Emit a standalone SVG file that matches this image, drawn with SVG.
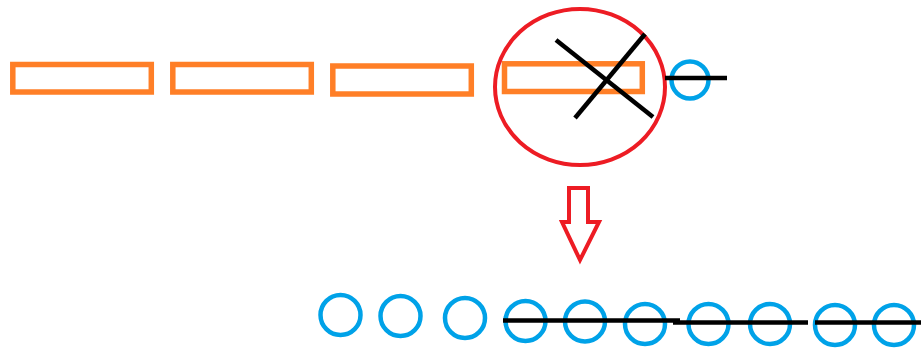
<svg xmlns="http://www.w3.org/2000/svg" width="921" height="349" viewBox="0 0 921 349">
<style>
.bar{fill:none;stroke:#ff7f27;stroke-width:5.5}
.dot{fill:none;stroke:#00a2e8;stroke-width:4.5}
.ink{stroke:#000;stroke-width:4.5;stroke-linecap:butt;fill:none}
.red{fill:none;stroke:#ed1c24;stroke-width:4}
</style>
<rect width="921" height="349" fill="#fff"/>
<g id="bar1"><rect class="bar" x="12.8" y="64.5" width="138.5" height="27.5"/></g>
<g id="bar2"><rect class="bar" x="172.8" y="64.5" width="138.5" height="27.5"/></g>
<g id="bar3"><rect class="bar" x="332.8" y="66" width="138.5" height="28"/></g>
<g id="bar4"><rect class="bar" x="504.5" y="63.8" width="137.8" height="27.7"/></g>
<g id="highlight"><ellipse class="red" cx="580" cy="87" rx="85" ry="78"/></g>
<g id="cross">
<line class="ink" x1="556" y1="40" x2="653" y2="117"/>
<line class="ink" x1="645" y1="34" x2="575" y2="118"/>
</g>
<g id="top-dot"><circle class="dot" cx="690" cy="80" r="18.5"/></g>
<g id="arrow"><path class="red" d="M569,188 H588 V222 H599 L580,260 L562,222 H569 Z" stroke-linejoin="miter"/></g>
<g id="dots">
<circle class="dot" cx="340.5" cy="315" r="20"/>
<circle class="dot" cx="400.5" cy="316" r="20"/>
<circle class="dot" cx="465" cy="318" r="20"/>
<circle class="dot" cx="525.5" cy="321" r="20"/>
<circle class="dot" cx="585" cy="321.5" r="20"/>
<circle class="dot" cx="645" cy="324" r="20"/>
<circle class="dot" cx="708.5" cy="324" r="20"/>
<circle class="dot" cx="770" cy="324" r="20"/>
<circle class="dot" cx="835" cy="325" r="20"/>
<circle class="dot" cx="894" cy="325" r="20"/>
</g>
<g id="connectors">
<line class="ink" x1="665" y1="78" x2="727" y2="78"/>
<line class="ink" x1="503" y1="320.5" x2="680" y2="320.5"/>
<line class="ink" x1="673" y1="322.5" x2="808" y2="322.5"/>
<line class="ink" x1="815" y1="322.5" x2="921" y2="322.5"/>
</g>
</svg>
